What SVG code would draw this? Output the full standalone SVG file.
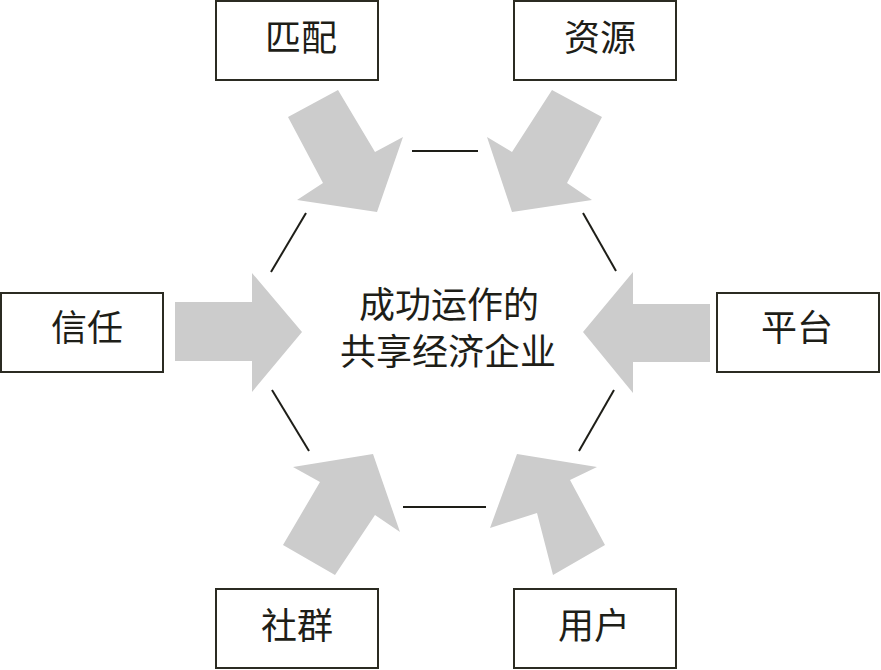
<svg xmlns="http://www.w3.org/2000/svg" width="881" height="670" viewBox="0 0 881 670">
<style>
.box{fill:#ffffff;stroke:#2b2b22;stroke-width:2}
.lbl{font-family:"Noto Sans CJK SC","Noto Sans CJK TC",sans-serif;font-size:36px;fill:#1e1e18;text-anchor:middle}
.arrow{fill:#cccccc;stroke:none}
.edge{stroke:#1e1e18;stroke-width:2;fill:none}
</style>
<rect width="881" height="670" fill="#ffffff"/>
<g id="connectors">
<polygon class="arrow" points="288,117 338,90 375,152 403,137 377,212 297,200 323,183"/>
<polygon class="arrow" points="552,90 602,117 567,183 592,200 512,212 487,137 512,152"/>
<polygon class="arrow" points="175,302 252,302 252,273 302,332 252,392 252,361 175,361"/>
<polygon class="arrow" points="710,304 633,304 633,272 583,332 633,393 633,362 710,362"/>
<polygon class="arrow" points="283,545 320,482 293,467 373,454 400,532 375,515 335,575"/>
<polygon class="arrow" points="553,575 605,545 570,480 597,467 517,454 490,528 537,513"/>
<line class="edge" x1="412" y1="151" x2="478" y2="151"/>
<line class="edge" x1="403" y1="507" x2="486" y2="507"/>
<line class="edge" x1="306" y1="213" x2="271" y2="272"/>
<line class="edge" x1="583" y1="213" x2="616" y2="271"/>
<line class="edge" x1="272" y1="390" x2="309" y2="451"/>
<line class="edge" x1="614" y1="390" x2="579" y2="451"/>
</g>
<g id="center">
<text class="lbl" x="449" y="318" font-size="37">成功运作的</text>
<text class="lbl" x="448" y="365" font-size="37">共享经济企业</text>
</g>
<g id="node-pipei">
<rect class="box" x="216" y="1" width="162" height="79"/>
<text class="lbl" x="301" y="51">匹配</text>
</g>
<g id="node-ziyuan">
<rect class="box" x="514" y="1" width="162" height="79"/>
<text class="lbl" x="600" y="51">资源</text>
</g>
<g id="node-xinren">
<rect class="box" x="1" y="293" width="162" height="79"/>
<text class="lbl" x="87" y="341">信任</text>
</g>
<g id="node-pingtai">
<rect class="box" x="717" y="293" width="162" height="79"/>
<text class="lbl" x="797" y="341">平台</text>
</g>
<g id="node-shequn">
<rect class="box" x="216" y="589" width="162" height="79"/>
<text class="lbl" x="297" y="639">社群</text>
</g>
<g id="node-yonghu">
<rect class="box" x="514" y="589" width="162" height="79"/>
<text class="lbl" x="594" y="639">用户</text>
</g>
</svg>
